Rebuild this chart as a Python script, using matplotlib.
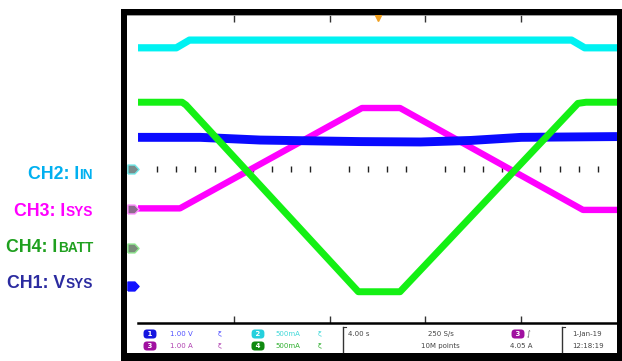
import matplotlib
matplotlib.use("Agg")
import matplotlib.pyplot as plt
from matplotlib.patches import Rectangle
from matplotlib.lines import Line2D

# --- scope data: time in s (4 s/div), amplitude in screen divisions ---
t_iin = [0.0, 1.6, 2.15, 18.1, 18.65, 20.0]
v_iin = [3.15, 3.15, 3.35, 3.35, 3.15, 3.15]

t_isys = [0.0, 1.75, 9.35, 10.94, 18.58, 20.0]
v_isys = [-1.01, -1.01, 1.59, 1.59, -1.05, -1.05]

t_ibatt = [0.0, 1.84, 2.0, 9.2, 10.94, 18.37, 18.71, 20.0]
v_ibatt = [1.74, 1.74, 1.67, -3.17, -3.17, 1.71, 1.74, 1.74]

t_vsys = [0.0, 2.6, 5.1, 9.3, 11.8, 13.9, 16.0, 20.0]
v_vsys = [0.83, 0.83, 0.76, 0.72, 0.71, 0.75, 0.83, 0.85]

ch_names = ["CH2: I", "CH3: I", "CH4: I", "CH1: V"]
ch_subs = ["IN", "SYS", "BATT", "SYS"]
ch_label_colors = ["#00b0f0", "#ff00ff", "#1fa01f", "#2b2ba0"]
ch_levels = [0.0, -1.03, -2.03, -3.02]
marker_faces = ["#7a8c8c", "#8c6c8c", "#7a8c7a", "#1010ff"]
marker_edges = ["#70e8e8", "#ff90ff", "#90e890", "#1010ff"]

W, H = 622, 361
fig = plt.figure(figsize=(W / 100, H / 100), dpi=100)


def fx(x):
    return x / W


def fy(y):
    return 1 - y / H


def rect(x0, y0, x1, y1, color="black"):
    fig.add_artist(Rectangle((fx(x0), fy(y1)), fx(x1) - fx(x0), fy(y0) - fy(y1),
                             transform=fig.transFigure, color=color, lw=0))


# --- scope screen ---
ax = fig.add_axes([fx(127), fy(323), fx(617) - fx(127), fy(15) - fy(323)])
ax.set_xlim(-0.46, 20.0)
ax.set_ylim(-3.98, 4.0)
ax.set_yticks([])
ax.set_xticks([4, 8, 12, 16])
ax.tick_params(axis="x", direction="in", length=5, width=1, color="#333333",
               top=True, bottom=True, labelbottom=False)
ax.spines["left"].set_visible(False)
ax.spines["right"].set_visible(False)
ax.spines["top"].set_color("#8a8a8a")
ax.spines["top"].set_linewidth(1.2)
ax.spines["bottom"].set_color("black")
ax.spines["bottom"].set_linewidth(1.8)
ax.spines["bottom"].set_bounds(0, 20)

# graticule marks on the centre line
grid_t = [0.8 * k for k in range(1, 25) if k % 5]
ax.plot(grid_t, [0] * len(grid_t), ls="none", marker="|", ms=4.3, mew=1,
        color="#222222", zorder=1)

kw = dict(solid_joinstyle="round", solid_capstyle="butt")
ax.plot(t_iin, v_iin, color="#00f2f2", lw=5.2, zorder=3, **kw)
ax.plot(t_isys, v_isys, color="#ff00ff", lw=4.6, zorder=3, **kw)
ax.plot(t_vsys, v_vsys, color="#0a0aff", lw=6.4, zorder=4, **kw)
ax.plot(t_ibatt, v_ibatt, color="#14f014", lw=5.0, zorder=5, **kw)

# channel ground markers
plate = [(-1, -0.8), (0.25, -0.8), (1, 0), (0.25, 0.8), (-1, 0.8), (-1, -0.8)]
for lvl, fc, ec in zip(ch_levels, marker_faces, marker_edges):
    ax.plot([-0.23], [lvl], marker=plate, ms=8, mfc=fc, mec=ec, mew=1,
            clip_on=False, zorder=6)

# trigger position
ax.plot([10], [3.93], marker="v", ms=4, color="#f0a020", clip_on=False, zorder=6)

# --- frame ---
rect(121, 9, 127, 361)
rect(121, 9, 622, 15)
rect(617, 9, 622, 361)
rect(121, 353, 622, 361)

# --- status bar ---
row1, row2 = 334, 346
status_font = dict(fontsize=5, va="center", family="DejaVu Sans")


def badge(x, y, s, color):
    fig.text(fx(x), fy(y), s, color="white", ha="center", weight="bold",
             bbox=dict(boxstyle="round,pad=0.22,rounding_size=0.5", fc=color, ec="none"),
             **status_font)


badge(150, row1, " 1 ", "#1515e0")
badge(150, row2, " 3 ", "#a010a0")
badge(258, row1, " 2 ", "#25d0dd")
badge(258, row2, " 4 ", "#108a10")
badge(518, row1, " 3 ", "#a010a0")

fig.text(fx(170), fy(row1), "1.00 V", color="#5050ff", **status_font)
fig.text(fx(170), fy(row2), "1.00 A", color="#b040b0", **status_font)
fig.text(fx(218), fy(row1), "ξ", color="#5050ff", **status_font)
fig.text(fx(218), fy(row2), "ξ", color="#b040b0", **status_font)
fig.text(fx(275), fy(row1), "500mA", color="#40d8d8", **status_font)
fig.text(fx(275), fy(row2), "500mA", color="#30b030", **status_font)
fig.text(fx(318), fy(row1), "ξ", color="#40d8d8", **status_font)
fig.text(fx(318), fy(row2), "ξ", color="#30b030", **status_font)
fig.text(fx(348), fy(row1), "4.00 s", color="#444444", **status_font)
fig.text(fx(428), fy(row1), "250 S/s", color="#444444", **status_font)
fig.text(fx(421), fy(row2), "10M points", color="#444444", **status_font)
fig.text(fx(527), fy(row1), "∫", color="#444444", **status_font)
fig.text(fx(510), fy(row2), "4.05 A", color="#444444", **status_font)
fig.text(fx(572), fy(row1), "1-Jan-19", color="#444444", **status_font)
fig.text(fx(572), fy(row2), "12:18:19", color="#444444", **status_font)

for xd in (343, 562):
    fig.add_artist(Line2D([fx(xd), fx(xd)], [fy(327), fy(352)],
                          transform=fig.transFigure, color="#333333", lw=1))
    fig.add_artist(Line2D([fx(xd), fx(xd + 3)], [fy(327), fy(327)],
                          transform=fig.transFigure, color="#333333", lw=0.8))

# --- channel labels on the left ---
label_font = ["Liberation Sans Narrow", "Liberation Sans", "DejaVu Sans"]
baselines = [178.5, 216, 252.5, 288.5]
renderer = fig.canvas.get_renderer()
for name, sub, col, yb in zip(ch_names, ch_subs, ch_label_colors, baselines):
    t_sub = fig.text(fx(93), fy(yb), sub, ha="right", va="baseline", color=col,
                     fontsize=9.8, weight="bold", family=label_font)
    bb = t_sub.get_window_extent(renderer)
    x0 = fig.transFigure.inverted().transform((bb.x0, 0))[0]
    fig.text(x0 - 0.5 / W, fy(yb), name, ha="right", va="baseline", color=col,
             fontsize=12.8, weight="bold", family=label_font)

fig.savefig("out.png", dpi=100)
